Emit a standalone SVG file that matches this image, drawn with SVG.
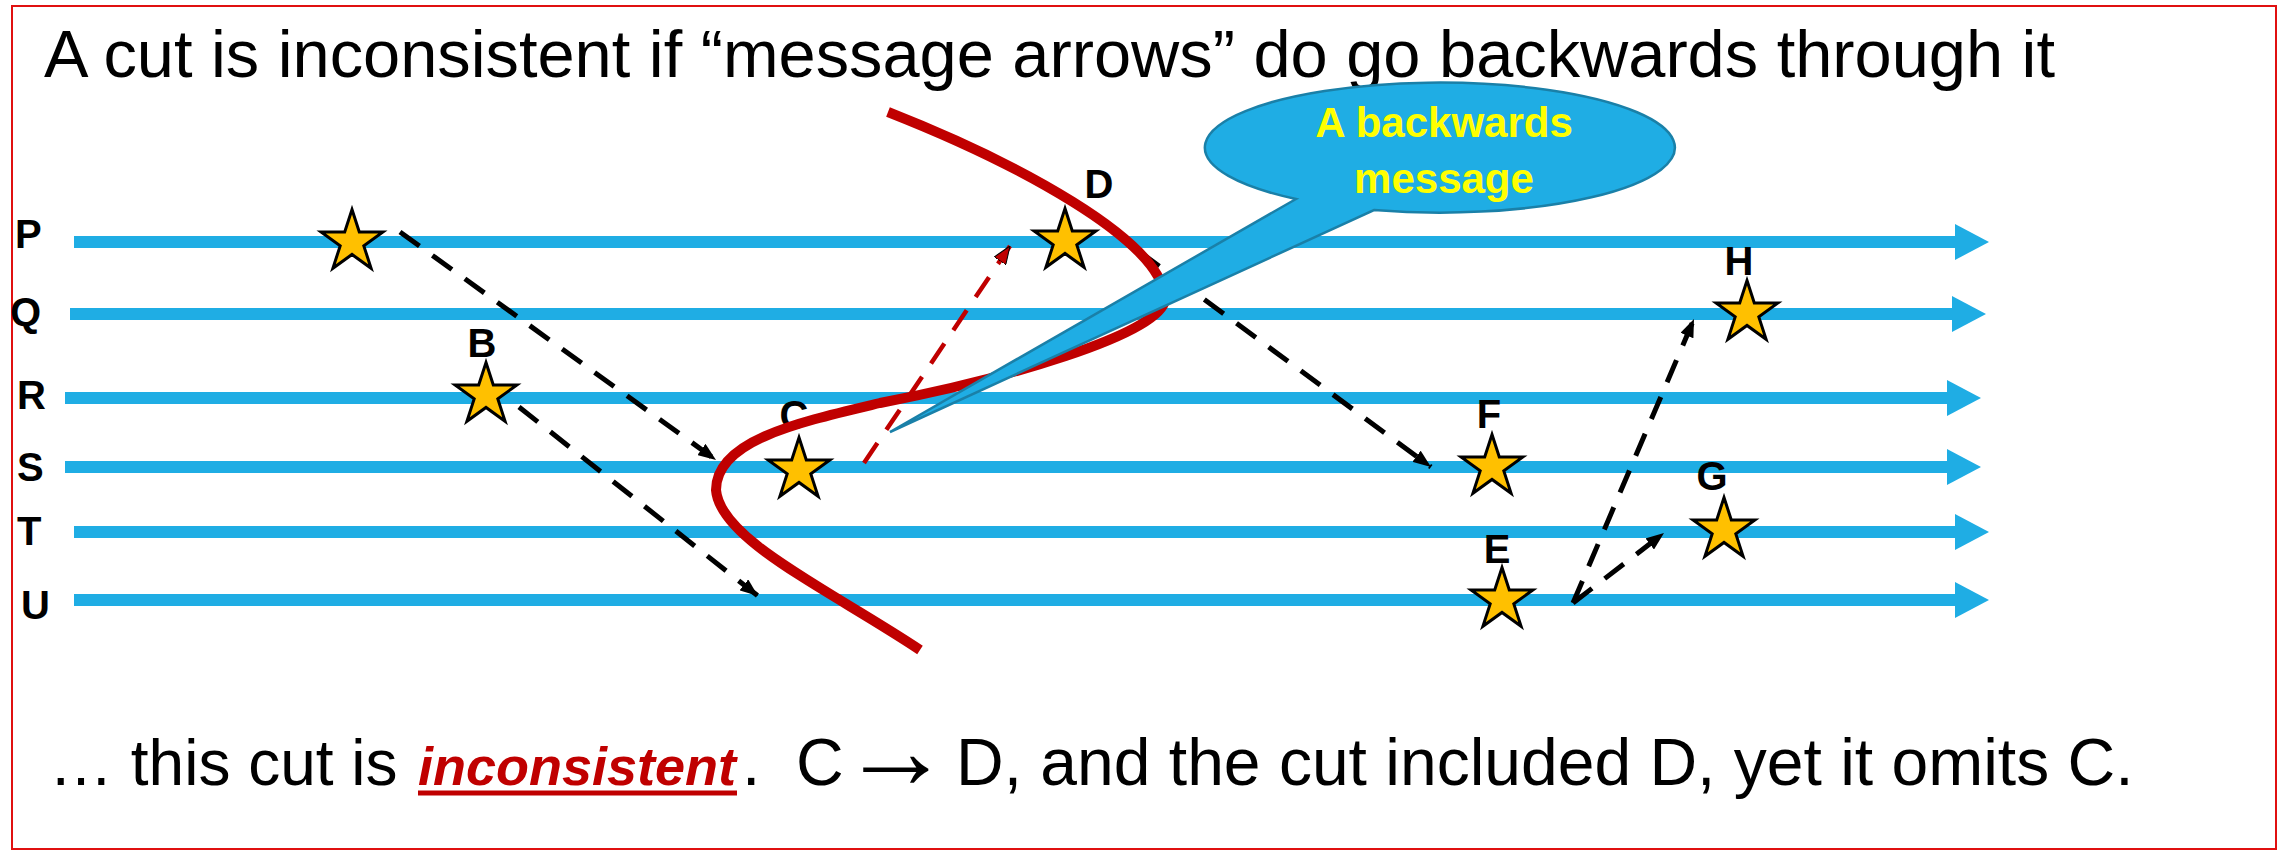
<svg xmlns="http://www.w3.org/2000/svg" xmlns:xlink="http://www.w3.org/1999/xlink" width="2280" height="851" viewBox="0 0 2280 851">
<style>
.lane{stroke:#1FADE4;stroke-width:12;fill:none}
.lbl{font-family:"Liberation Sans",Arial,sans-serif;font-weight:bold;font-size:40px;fill:#000}
.ev{font-family:"Liberation Sans",Arial,sans-serif;font-weight:bold;font-size:40px;fill:#000;text-anchor:middle}
.star{fill:#FFC000;stroke:#000;stroke-width:3;stroke-linejoin:miter}
.msg{fill:none;stroke:#000;stroke-width:5;stroke-dasharray:24 16}
.bad{fill:none;stroke:#C00000;stroke-width:4.5;stroke-dasharray:24 16}
.big{font-family:"Liberation Sans",Arial,sans-serif;font-size:66px;fill:#000}
.co{font-family:"Liberation Sans",Arial,sans-serif;font-weight:bold;font-size:42px;fill:#FFFF00;text-anchor:middle}
</style>
<defs>
<marker id="lanehead" markerUnits="userSpaceOnUse" markerWidth="34" markerHeight="36" viewBox="0 0 34 36" refX="0" refY="18" orient="auto">
<path d="M0,0 L34,18 L0,36 Z" fill="#1FADE4"/>
</marker>
<marker id="ah" markerUnits="userSpaceOnUse" markerWidth="18" markerHeight="14" viewBox="0 0 18 14" refX="18" refY="7" orient="auto">
<path d="M0,0 L18,7 L0,14 Z" fill="#000"/>
</marker>
<marker id="ahr" markerUnits="userSpaceOnUse" markerWidth="18" markerHeight="14" viewBox="0 0 18 14" refX="18" refY="7" orient="auto">
<path d="M0,0 L18,7 L0,14 Z" fill="#C00000" stroke="#000" stroke-width="1"/>
</marker>
<polygon id="star" points="0,-32.5 7.3,-10.05 30.91,-10.04 11.81,3.84 19.1,26.29 0,12.42 -19.1,26.29 -11.81,3.84 -30.91,-10.04 -7.3,-10.05"/>
</defs>
<rect x="12" y="6" width="2264" height="843" fill="#fff" stroke="#E01010" stroke-width="2"/>
<text id="title" class="big" x="44" y="77" textLength="2011" lengthAdjust="spacingAndGlyphs">A cut is inconsistent if “message arrows” do go backwards through it</text>

<g id="lane-P"><line class="lane" x1="74" y1="242" x2="1955" y2="242" marker-end="url(#lanehead)"/><text class="lbl" x="15" y="248">P</text></g>
<g id="lane-Q"><line class="lane" x1="70" y1="314" x2="1952" y2="314" marker-end="url(#lanehead)"/><text class="lbl" x="10" y="326">Q</text></g>
<g id="lane-R"><line class="lane" x1="65" y1="398" x2="1947" y2="398" marker-end="url(#lanehead)"/><text class="lbl" x="17" y="409">R</text></g>
<g id="lane-S"><line class="lane" x1="65" y1="467" x2="1947" y2="467" marker-end="url(#lanehead)"/><text class="lbl" x="17" y="481">S</text></g>
<g id="lane-T"><line class="lane" x1="74" y1="532" x2="1955" y2="532" marker-end="url(#lanehead)"/><text class="lbl" x="17" y="545">T</text></g>
<g id="lane-U"><line class="lane" x1="74" y1="600" x2="1955" y2="600" marker-end="url(#lanehead)"/><text class="lbl" x="21" y="619">U</text></g>

<g id="connectors">
<path class="msg" d="M400,232 L716,460" marker-end="url(#ah)"/>
<path class="msg" d="M519,407 L758,596" marker-end="url(#ah)"/>
<path class="bad" d="M864,463 L1010,246" marker-end="url(#ahr)"/>
<path class="msg" d="M1140,252 L1431,467" marker-end="url(#ah)"/>
<path class="msg" d="M1573,603 L1694,319" marker-end="url(#ah)"/>
<path class="msg" d="M1573,603 L1664,533" marker-end="url(#ah)"/>
</g>

<g id="event-A"><use xlink:href="#star" class="star" x="352" y="242"/></g>
<g id="event-B"><use xlink:href="#star" class="star" x="486" y="395"/><text class="ev" x="482" y="357">B</text></g>
<g id="event-C"><use xlink:href="#star" class="star" x="799" y="470"/><text class="ev" x="794" y="429">C</text></g>
<g id="event-D"><use xlink:href="#star" class="star" x="1065" y="241"/><text class="ev" x="1099" y="198">D</text></g>
<g id="event-E"><use xlink:href="#star" class="star" x="1502" y="600"/><text class="ev" x="1497" y="563">E</text></g>
<g id="event-F"><use xlink:href="#star" class="star" x="1492" y="467"/><text class="ev" x="1489" y="428">F</text></g>
<g id="event-G"><use xlink:href="#star" class="star" x="1724" y="530"/><text class="ev" x="1712" y="490">G</text></g>
<g id="event-H"><use xlink:href="#star" class="star" x="1747" y="313"/><text class="ev" x="1739" y="275">H</text></g>

<g id="cut"><path d="M888,112 C1010,160 1165,240 1165,300 C1160,335 1000,380 880,403 C800,422 716,440 716,490 C720,540 830,590 920,650" fill="none" stroke="#C00000" stroke-width="10"/></g>

<g id="callout">
<path d="M1296,199 L890,432 L1374,210 A235,65 0 1 0 1296,199 Z" fill="#1FADE4" stroke="#1A80A8" stroke-width="2.5" stroke-linejoin="miter"/>
<text class="co" x="1444" y="137">A backwards</text>
<text class="co" x="1444" y="193">message</text>
</g>

<g id="caption">
<line x1="418" y1="793" x2="737" y2="793" stroke="#C00000" stroke-width="5"/>
<text class="big" y="785"><tspan x="49" font-size="64">… this cut is</tspan><tspan x="418" font-size="54" font-weight="bold" font-style="italic" fill="#C00000">inconsistent</tspan><tspan x="742">.</tspan><tspan x="796">C</tspan><tspan x="841" y="788" font-size="110">→</tspan><tspan x="956" y="785">D, and the cut included D, yet it omits C.</tspan></text>
</g>
</svg>
